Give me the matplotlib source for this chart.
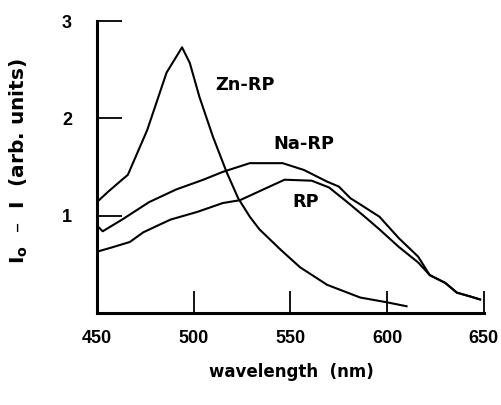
import matplotlib
matplotlib.use("Agg")
import matplotlib.pyplot as plt

plt.rcParams['font.family'] = ['DejaVu Sans']
plt.rcParams['font.weight'] = 'bold'
plt.rcParams['mathtext.fontset'] = 'dejavusans'

# Zn-RP
zn_wl = [450, 456, 463, 466, 476, 486, 494, 498, 503, 510, 517, 523, 529, 534,
         545, 555, 569, 586, 600, 610]
zn_val = [1.14, 1.25, 1.37, 1.42, 1.88, 2.47, 2.73, 2.57, 2.22, 1.81, 1.45, 1.18,
          0.99, 0.86, 0.65, 0.47, 0.29, 0.16, 0.11, 0.07]

# Na-RP
na_wl = [450, 453, 463, 477, 491, 505, 515, 529, 546, 557, 569, 575, 581, 585,
         596, 606, 616, 622, 630, 636, 643, 648]
na_val = [0.90, 0.84, 0.96, 1.14, 1.27, 1.37, 1.45, 1.54, 1.54, 1.47, 1.35, 1.30,
          1.18, 1.13, 0.99, 0.77, 0.58, 0.39, 0.31, 0.21, 0.17, 0.14]

# RP
rp_wl = [450, 457, 467, 474, 488, 502, 515, 524, 536, 547, 561, 570, 580, 589,
         596, 606, 616, 622, 630, 636, 643, 648]
rp_val = [0.63, 0.67, 0.73, 0.83, 0.96, 1.04, 1.13, 1.16, 1.27, 1.37, 1.36, 1.29,
          1.13, 0.98, 0.86, 0.68, 0.52, 0.39, 0.31, 0.21, 0.17, 0.14]

x_ticks = [450, 500, 550, 600, 650]
x_labels = ['450', '500', '550', '600', '650']
y_ticks = [1, 2, 3]

fig = plt.figure(figsize=(5.02, 4.05), dpi=100)
ax = fig.add_axes([0.193, 0.227, 0.771, 0.721])

for wl, val in [(zn_wl, zn_val), (na_wl, na_val), (rp_wl, rp_val)]:
    ax.plot(wl, val, color='black', lw=1.5)

ax.set_xlim(450, 650)
ax.set_ylim(0, 3)

ax.spines['top'].set_visible(False)
ax.spines['right'].set_visible(False)
ax.spines['left'].set_linewidth(2.2)
ax.spines['bottom'].set_linewidth(2.2)

tick_font = dict(family='Liberation Sans', size=13, weight='bold')
ax.set_xticks(x_ticks)
ax.set_xticklabels(x_labels, fontdict=tick_font)
ax.set_yticks(y_ticks)
ax.set_yticklabels([str(t) for t in y_ticks], fontdict=tick_font)
ax.tick_params(axis='x', direction='in', length=16, width=1.3, pad=12)
ax.tick_params(axis='y', direction='in', length=18, width=1.3, pad=18)
ax.xaxis.get_major_ticks()[0].tick1line.set_visible(False)

ax.text(511, 2.34, 'Zn-RP', fontsize=12.8, fontweight='bold', va='center')
ax.text(541, 1.74, 'Na-RP', fontsize=12.8, fontweight='bold', va='center')
ax.text(551, 1.14, 'RP', fontsize=12.8, fontweight='bold', va='center')

fig.text(291 / 502, 1 - 372 / 405, 'wavelength  (nm)', fontsize=12,
         fontweight='bold', ha='center', va='center')
fig.text(19 / 502, 1 - 161 / 405, r'I$_{\mathbf{o}}$  –  I  (arb. units)',
         fontsize=14.5, fontweight='bold', rotation=90, ha='center', va='center')

fig.savefig('out.png', dpi=100)
